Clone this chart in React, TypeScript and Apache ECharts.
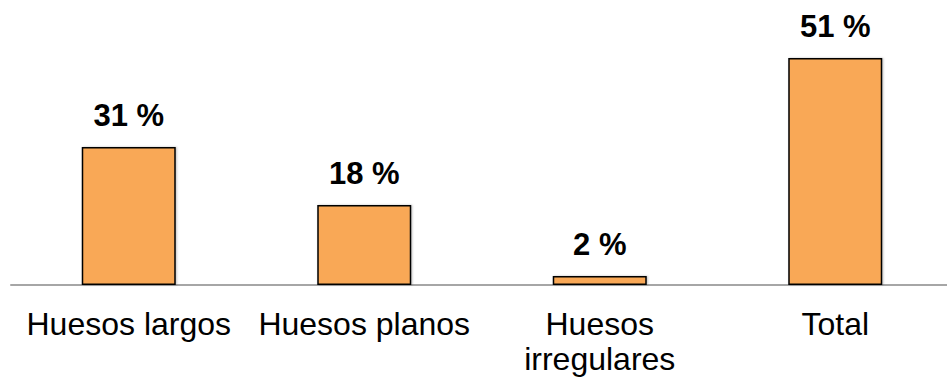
import React, { useEffect, useRef } from "react";
import * as echarts from "echarts";

const categories: string[] = ["Huesos largos", "Huesos planos", "Huesos\nirregulares", "Total"];
const percentages: number[] = [31, 18, 2, 51];

export default function App() {
  const ref = useRef<HTMLDivElement>(null);

  useEffect(() => {
    if (!ref.current) return;
    const chart = echarts.init(ref.current, undefined, { renderer: "svg" });
    const font = "'Liberation Sans', Arial, sans-serif";
    chart.setOption({
      animation: false,
      backgroundColor: "#ffffff",
      grid: {
        left: 11,
        width: 942,
        top: 18,
        bottom: 95,
        containLabel: false,
        outerBoundsMode: "none",
      },
      xAxis: {
        type: "category",
        data: categories,
        axisLine: { lineStyle: { color: "#a6a6a6", width: 2 } },
        axisTick: { show: false },
        axisLabel: {
          color: "#000000",
          fontFamily: font,
          fontSize: 32,
          lineHeight: 35,
          margin: 21,
          interval: 0,
        },
      },
      yAxis: {
        type: "value",
        min: 0,
        max: 60,
        show: false,
        splitLine: { show: false },
      },
      series: [
        {
          type: "bar",
          data: percentages,
          barWidth: 94,
          itemStyle: {
            color: "#f9a856",
            borderColor: "#000000",
            borderWidth: 1.5,
            shadowColor: "rgba(0,0,0,0.25)",
            shadowBlur: 2,
            shadowOffsetX: 1,
            shadowOffsetY: 0,
          },
          label: {
            show: true,
            position: "top",
            distance: 16,
            formatter: (p: any) => `${p.value} %`,
            color: "#000000",
            fontFamily: font,
            fontSize: 31,
            fontWeight: "bold",
          },
        },
      ],
    });
    return () => chart.dispose();
  }, []);

  return (
    <div
      ref={ref}
      style={{ position: "fixed", left: 0, top: 0, width: 947, height: 380 }}
    />
  );
}
